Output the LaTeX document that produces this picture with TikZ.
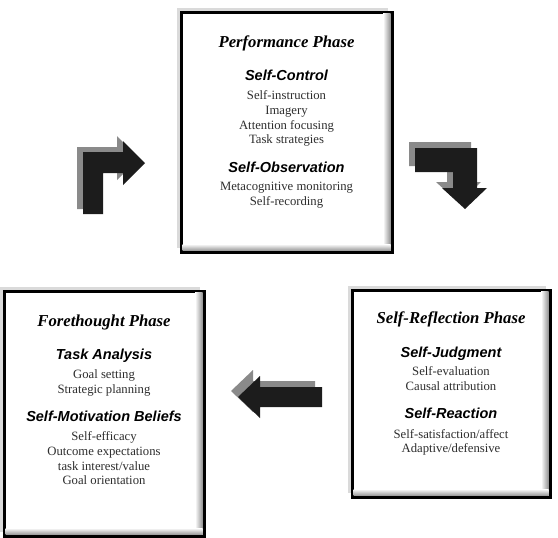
\documentclass[tikz,border=0pt]{standalone}
\usepackage{fontspec}
\setmainfont{Liberation Serif}
\newfontfamily\headfont{Liberation Sans}
\usetikzlibrary{calc,backgrounds}

\definecolor{arrowblack}{HTML}{1C1C1C}
\definecolor{arrowshade}{HTML}{8A8A8A}
\definecolor{itemgray}{HTML}{2E2E2E}
\definecolor{haze}{HTML}{DADADA}

\tikzset{
  frame/.style={draw=black, line width=3pt, fill=white, inner sep=0pt, outer sep=0pt},
  phasetitle/.style={font=\fontsize{16.7}{18}\selectfont\bfseries\itshape,
    text height=0.7em, text depth=0.2em, inner sep=0pt},
  subhead/.style={font=\headfont\fontsize{14.5}{16}\selectfont\bfseries\itshape,
    text height=0.7em, text depth=0.2em, inner sep=0pt},
  item/.style={font=\fontsize{12.7}{14}\selectfont, text=itemgray,
    text height=0.7em, text depth=0.2em, inner sep=0pt},
  blockarrow/.style={fill=arrowblack},
  arrowshadow/.style={fill=arrowshade},
}

% framed phase box: name, centre, width, height
\newcommand{\phaseframe}[4]{%
  \node[frame, minimum width=#3pt, minimum height=#4pt] (#1) at (#2) {};
  \begin{scope}[on background layer]
    \fill[haze] ($(#1.north west)+(-4.5,-4.5)$) rectangle ($(#1.south east)+(-4.5,-4.5)$);
  \end{scope}
  \shade[left color=white, right color=gray!85]
    ($(#1.north east)+(-9,1.5)$) rectangle ($(#1.south east)+(-1.5,-1.5)$);
  \shade[top color=white, bottom color=gray!80]
    ($(#1.south west)+(1.5,-8)$) rectangle ($(#1.south east)+(-1.5,-1.5)$);
}

\begin{document}
\begin{tikzpicture}[x=1pt, y=-1pt]
  \useasboundingbox (0,0) rectangle (558,538);

  % ---- phase boxes ----
  \phaseframe{perf}{286.5,132}{211}{240}
  \phaseframe{fore}{104,413.5}{200}{245}
  \phaseframe{refl}{451,393.5}{198}{207}

  % ---- Performance phase ----
  \node[phasetitle] (perfT)  at (286.5,44.5)  {Performance Phase};
  \node[subhead]    (perfH1) at (286.5,78.5)  {Self-Control};
  \node[item]       (perfA)  at (286.5,96.5)  {Self-instruction};
  \node[item]       (perfB)  at (286.5,111.5) {Imagery};
  \node[item]       (perfC)  at (286.5,126.5) {Attention focusing};
  \node[item]       (perfD)  at (286.5,140.5) {Task strategies};
  \node[subhead]    (perfH2) at (286.5,169.5) {Self-Observation};
  \node[item]       (perfE)  at (286.5,187.5) {Metacognitive monitoring};
  \node[item]       (perfF)  at (286.5,202.5) {Self-recording};

  % ---- Forethought phase ----
  \node[phasetitle] (foreT)  at (104,323.5) {Forethought Phase};
  \node[subhead]    (foreH1) at (104,356.5) {Task Analysis};
  \node[item]       (foreA)  at (104,375.5) {Goal setting};
  \node[item]       (foreB)  at (104,390.5) {Strategic planning};
  \node[subhead]    (foreH2) at (104,418.5) {Self-Motivation Beliefs};
  \node[item]       (foreC)  at (104,437.5) {Self-efficacy};
  \node[item]       (foreD)  at (104,452.5) {Outcome expectations};
  \node[item]       (foreE)  at (104,467.5) {task interest/value};
  \node[item]       (foreF)  at (104,481.5) {Goal orientation};

  % ---- Self-reflection phase ----
  \node[phasetitle] (reflT)  at (451,320.5) {Self-Reflection Phase};
  \node[subhead]    (reflH1) at (451,354.5) {Self-Judgment};
  \node[item]       (reflA)  at (451,372.5) {Self-evaluation};
  \node[item]       (reflB)  at (451,387.5) {Causal attribution};
  \node[subhead]    (reflH2) at (451,415.5) {Self-Reaction};
  \node[item]       (reflC)  at (451,435.5) {Self-satisfaction/affect};
  \node[item]       (reflD)  at (451,449.5) {Adaptive/defensive};

  % ---- cycle arrows (solid block with grey offset shadow) ----
  % up-and-right, forethought -> performance
  \begin{scope}[shift={(-6,-5)}]
    \fill[arrowshadow] (83,214) -- (83,152) -- (123,152) -- (123,141) -- (145,163)
      -- (123,185) -- (123,173) -- (103,173) -- (103,214) -- cycle;
  \end{scope}
  \fill[blockarrow] (83,214) -- (83,152) -- (123,152) -- (123,141) -- (145,163)
    -- (123,185) -- (123,173) -- (103,173) -- (103,214) -- cycle;

  % right-and-down, performance -> self-reflection
  \begin{scope}[shift={(-6,-6)}]
    \fill[arrowshadow] (415,148) -- (477,148) -- (477,188) -- (487,188) -- (465,209)
      -- (442,188) -- (453,188) -- (453,172) -- (415,172) -- cycle;
  \end{scope}
  \fill[blockarrow] (415,148) -- (477,148) -- (477,188) -- (487,188) -- (465,209)
    -- (442,188) -- (453,188) -- (453,172) -- (415,172) -- cycle;

  % leftward, self-reflection -> forethought
  \begin{scope}[shift={(-7,-6)}]
    \fill[arrowshadow] (322,387) -- (260,387) -- (260,376) -- (238,397)
      -- (260,418) -- (260,407) -- (322,407) -- cycle;
  \end{scope}
  \fill[blockarrow] (322,387) -- (260,387) -- (260,376) -- (238,397)
    -- (260,418) -- (260,407) -- (322,407) -- cycle;
\end{tikzpicture}
\end{document}
